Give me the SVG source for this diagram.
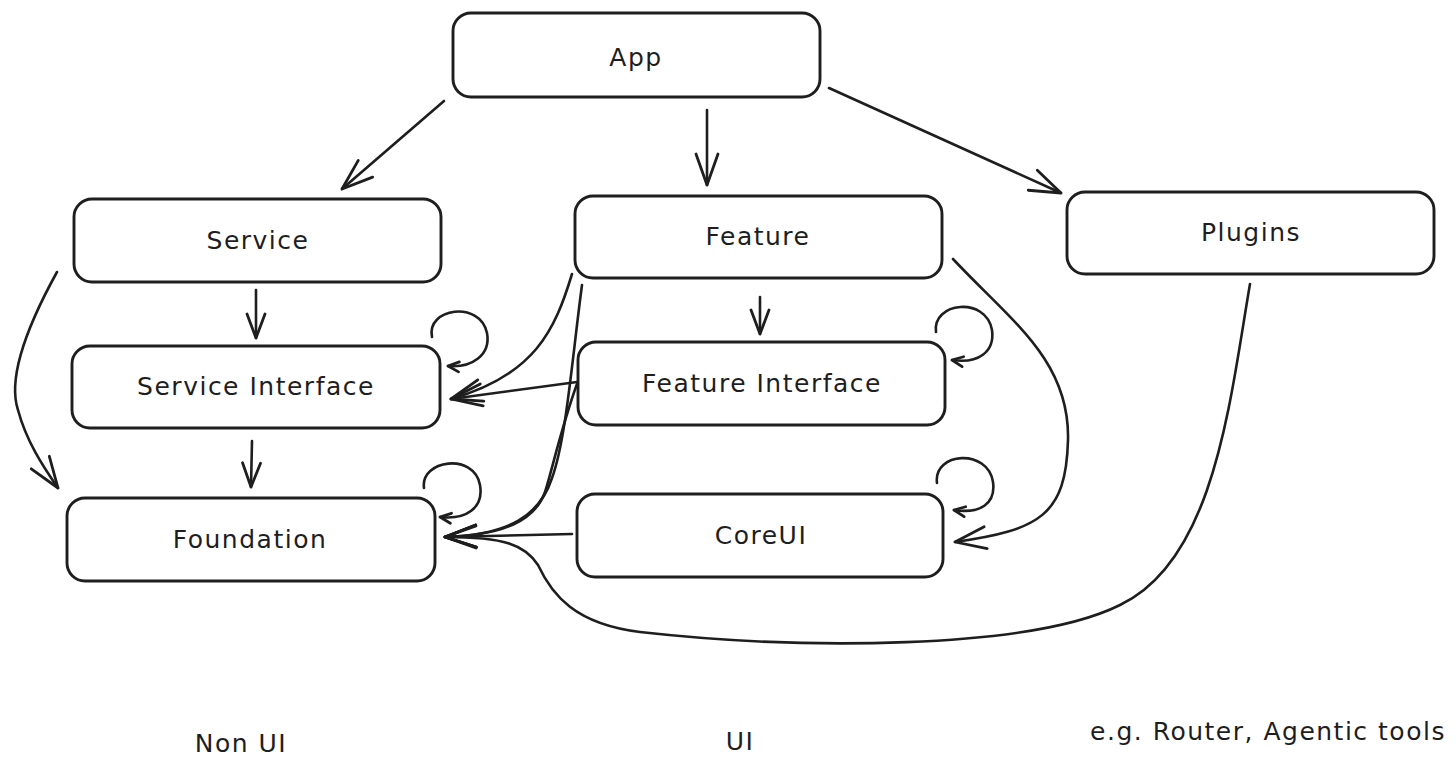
<svg xmlns="http://www.w3.org/2000/svg" width="1456" height="776" viewBox="0 0 1456 776">
<style>
.box{fill:#ffffff;stroke:#1e1e1e;stroke-width:2.9}
.lbl{font-family:"DejaVu Sans","Liberation Sans",sans-serif;font-size:25px;fill:#1e1e1e;text-anchor:middle;letter-spacing:1.5px}
.ln{fill:none;stroke:#1e1e1e;stroke-width:2.6;stroke-linecap:round;stroke-linejoin:round}
.ahp{fill:none;stroke:#1e1e1e;stroke-width:2.8;stroke-linecap:round;stroke-linejoin:round}
</style>
<defs>
<marker id="ahL" viewBox="-40 -20 46 40" refX="0" refY="0" markerWidth="46" markerHeight="40" markerUnits="userSpaceOnUse" orient="auto">
<path class="ahp" d="M-31,-11 L0,0 L-31,11"/>
</marker>
<marker id="ahM" viewBox="-30 -15 34 30" refX="0" refY="0" markerWidth="34" markerHeight="30" markerUnits="userSpaceOnUse" orient="auto">
<path class="ahp" d="M-24,-9 L0,0 L-24,9"/>
</marker>
<marker id="ahS" viewBox="-16 -10 20 20" refX="0" refY="0" markerWidth="20" markerHeight="20" markerUnits="userSpaceOnUse" orient="auto">
<path class="ahp" d="M-11,-5 L0,0 L-11,5"/>
</marker>
</defs>
<rect width="1456" height="776" fill="#ffffff"/>
<g id="connectors">
<path class="ln" d="M444,101 L342,189" marker-end="url(#ahL)"/>
<path class="ln" d="M707,110 L707,185" marker-end="url(#ahL)"/>
<path class="ln" d="M829,88 L1061,193" marker-end="url(#ahL)"/>
<path class="ln" d="M256,290 L256,338" marker-end="url(#ahM)"/>
<path class="ln" d="M252,441 L251,487" marker-end="url(#ahM)"/>
<path class="ln" d="M760,297 L760,334" marker-end="url(#ahM)"/>
<path class="ln" d="M57,272 C 25,330 8,380 18,410 C 26,440 42,465 58,488" marker-end="url(#ahL)"/>
<path class="ln" d="M432,337 C 426,308 480,300 487,333 C 491,355 472,368 448,366" marker-end="url(#ahS)"/>
<path class="ln" d="M424,488 C 420,460 474,452 480,485 C 484,508 466,520 440,517" marker-end="url(#ahS)"/>
<path class="ln" d="M936,332 C 932,302 986,296 992,330 C 995,352 978,364 952,360" marker-end="url(#ahS)"/>
<path class="ln" d="M937,483 C 933,452 988,448 993,482 C 996,504 980,514 954,510" marker-end="url(#ahS)"/>
<path class="ln" d="M577,382 L451,399" marker-end="url(#ahL)"/>
<path class="ln" d="M572,274 C 555,330 535,375 451,399" marker-end="url(#ahL)"/>
<path class="ln" d="M582,285 C 572,360 566,440 552,478 C 540,515 510,535 445,537" marker-end="url(#ahL)"/>
<path class="ln" d="M577,384 C 562,425 552,470 545,492 C 535,520 505,535 445,537" marker-end="url(#ahL)"/>
<path class="ln" d="M572,534 L445,537" marker-end="url(#ahL)"/>
<path class="ln" d="M953,259 C 1010,320 1070,360 1068,440 C 1066,515 1040,530 955,542" marker-end="url(#ahL)"/>
<path class="ln" d="M1250,284 C 1230,400 1215,560 1120,605 C 1030,650 800,650 640,632 C 575,624 552,595 538,565 C 525,545 505,537 445,537" marker-end="url(#ahL)"/>
</g>
<g id="node-app"><rect class="box" x="453" y="13" width="367" height="84" rx="18"/><text class="lbl" x="636" y="66">App</text></g>
<g id="node-service"><rect class="box" x="74" y="199" width="367" height="83" rx="18"/><text class="lbl" x="258" y="249">Service</text></g>
<g id="node-feature"><rect class="box" x="575" y="196" width="367" height="82" rx="18"/><text class="lbl" x="758" y="245">Feature</text></g>
<g id="node-plugins"><rect class="box" x="1067" y="192" width="367" height="82" rx="18"/><text class="lbl" x="1251" y="241">Plugins</text></g>
<g id="node-service-interface"><rect class="box" x="72" y="346" width="368" height="82" rx="18"/><text class="lbl" x="256" y="395">Service Interface</text></g>
<g id="node-feature-interface"><rect class="box" x="578" y="342" width="367" height="83" rx="18"/><text class="lbl" x="762" y="392">Feature Interface</text></g>
<g id="node-foundation"><rect class="box" x="67" y="498" width="368" height="83" rx="18"/><text class="lbl" x="250" y="548">Foundation</text></g>
<g id="node-coreui"><rect class="box" x="577" y="494" width="366" height="83" rx="18"/><text class="lbl" x="761" y="544">CoreUI</text></g>
<g id="labels">
<text class="lbl" x="241" y="752">Non UI</text>
<text class="lbl" x="740" y="750">UI</text>
<text class="lbl" x="1268" y="740">e.g. Router, Agentic tools</text>
</g>
</svg>
